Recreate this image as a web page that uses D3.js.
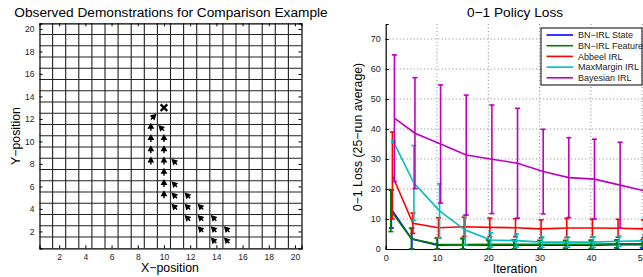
<!DOCTYPE html>
<html>
<head>
<meta charset="utf-8">
<script src="https://cdn.jsdelivr.net/npm/d3@7"></script>
<style>
  body { margin: 0; background: #fff; }
  svg { display: block; font-family: 'Liberation Sans', Arial, sans-serif; }
</style>
</head>
<body>
<svg id="canvas" width="643" height="277"></svg>
<script>
// ---- left panel: demonstration on the grid world ----
let demoX   = [9, 9, 10, 9, 10, 9, 10, 9, 10, 11, 10, 10, 11, 10, 11, 12, 11, 12, 13, 12, 13, 14, 13, 14, 15, 14, 15]
let demoY   = [12, 11, 11, 10, 10, 9, 9, 8, 8, 8, 7, 6, 6, 5, 5, 5, 4, 4, 4, 3, 3, 3, 2, 2, 2, 1, 1]
let demoDir = ['NE', 'N', 'NW', 'N', 'N', 'N', 'N', 'N', 'N', 'NW', 'N', 'N', 'NW', 'N', 'NW', 'NW',
               'NW', 'NW', 'NW', 'NW', 'NW', 'NW', 'NW', 'NW', 'NW', 'NW', 'NW']
let goal = [10, 13]
let gridTicks = [2, 4, 6, 8, 10, 12, 14, 16, 18, 20]

// ---- right panel: 0-1 policy loss ----
let iterations = [1, 5, 10, 15, 20, 25, 30, 35, 40, 45, 50]
let lossTicksX = [0, 10, 20, 30, 40, 50]
let lossTicksY = [0, 10, 20, 30, 40, 50, 60, 70]

let stateMean = [13.3, 3.3, 1.3, 1.4, 1.3, 1.3, 1.3, 1.3, 1.3, 1.4, 1.4]
let stateErr  = [6.3, 3.6, 2.4, 2.2, 1.5, 1.5, 1.4, 1.4, 1.3, 1.6, 1.5]
let featureMean = [12.8, 3.4, 1.6, 1.5, 1.6, 1.6, 1.6, 1.6, 1.6, 1.7, 1.7]
let featureErr  = [7.0, 3.5, 2.0, 1.9, 1.5, 1.5, 1.3, 1.3, 1.4, 1.3, 1.2]
let abbeelMean = [24.5, 8.6, 7.1, 7.4, 7.2, 7.1, 6.7, 7.0, 7.0, 6.9, 6.7]
let abbeelErr  = [14.5, 3.4, 3.3, 3.2, 3.1, 3.0, 3.0, 3.2, 3.0, 3.0, 3.0]
let maxMarginMean = [35.8, 22.0, 12.7, 6.3, 3.0, 2.8, 2.3, 2.3, 2.3, 2.6, 2.7]
let maxMarginErr  = [0.4, 12.5, 9.0, 5.0, 2.4, 2.2, 1.8, 1.7, 1.8, 1.7, 1.6]
let bayesMean = [43.6, 38.6, 35.0, 31.3, 29.9, 28.6, 25.8, 23.8, 23.3, 21.3, 19.3]
let bayesErr  = [21.1, 18.5, 19.7, 20.0, 18.1, 18.3, 14.1, 13.3, 13.3, 14.3, 13.7]

let seriesNames = ['BN\u2212IRL State', 'BN\u2212IRL Feature', 'Abbeel IRL', 'MaxMargin IRL', 'Bayesian IRL']
let seriesMeans = [stateMean, featureMean, abbeelMean, maxMarginMean, bayesMean]
let seriesErrs  = [stateErr, featureErr, abbeelErr, maxMarginErr, bayesErr]
let seriesColors = ['#0000ff', '#008000', '#ff0000', '#00bfbf', '#bf00bf']
let seriesShift  = [0.1, 0, 0.3, 0.5, 0.7]   // small x jitter so bars don't sit on top of each other

let svg = d3.select('#canvas')

let drawGridWorld = () => {
    let xScale = d3.scaleLinear().domain([0.5, 20.5]).range([39.5, 301.5])
    let yScale = d3.scaleLinear().domain([0.5, 20.5]).range([248.3, 23.3])
    let g = svg.append('g')

    let cells = d3.range(1.5, 20, 1)
    g.selectAll('.vline').data(cells).enter().append('line')
        .attr('x1', d => xScale(d)).attr('x2', d => xScale(d))
        .attr('y1', yScale(0.5)).attr('y2', yScale(20.5))
        .attr('stroke', '#222').attr('stroke-width', 1.1)
    g.selectAll('.hline').data(cells).enter().append('line')
        .attr('y1', d => yScale(d)).attr('y2', d => yScale(d))
        .attr('x1', xScale(0.5)).attr('x2', xScale(20.5))
        .attr('stroke', '#222').attr('stroke-width', 1.1)

    let xAxis = d3.axisBottom(xScale).tickValues(gridTicks).tickSize(-3).tickPadding(6)
    let yAxis = d3.axisLeft(yScale).tickValues(gridTicks).tickSize(-3).tickPadding(5)
    let xTop = d3.axisTop(xScale).tickValues(gridTicks).tickSize(-3).tickFormat('')
    let yRight = d3.axisRight(yScale).tickValues(gridTicks).tickSize(-3).tickFormat('')

    g.append('g').attr('transform', 'translate(0,' + yScale(0.5) + ')').call(xAxis)
    g.append('g').attr('transform', 'translate(' + xScale(0.5) + ',0)').call(yAxis)
    g.append('g').attr('transform', 'translate(0,' + yScale(20.5) + ')').call(xTop)
    g.append('g').attr('transform', 'translate(' + xScale(20.5) + ',0)').call(yRight)
    g.selectAll('.domain').attr('stroke', '#000').attr('stroke-width', 1.2)
    g.selectAll('.tick text').attr('font-size', 8.5).attr('fill', '#222')
        .attr('font-family', "'Liberation Sans', Arial, sans-serif")

    // demonstration arrows
    let arrowPath = 'M0,0 L0,-3 M-2.2,-2.6 L0,-6.5 L2.2,-2.6 Z'
    let angle = { N: 0, NW: -45, NE: 45 }
    g.selectAll('.arrow').data(demoX).enter().append('path')
        .attr('d', arrowPath)
        .attr('transform', (d, i) => 'translate(' + xScale(d) + ',' + (yScale(demoY[i]) + 0.5) + ') rotate(' + angle[demoDir[i]] + ')')
        .attr('fill', '#000').attr('stroke', '#000').attr('stroke-width', 1.4)
        .attr('stroke-linejoin', 'miter')

    // goal marker
    let gx = xScale(goal[0]), gy = yScale(goal[1])
    g.append('path')
        .attr('d', 'M' + (gx - 3.3) + ',' + (gy - 3.3) + 'L' + (gx + 3.3) + ',' + (gy + 3.3) +
                   'M' + (gx - 3.3) + ',' + (gy + 3.3) + 'L' + (gx + 3.3) + ',' + (gy - 3.3))
        .attr('stroke', '#000').attr('stroke-width', 2.4)

    svg.append('text').attr('x', 171).attr('y', 17).attr('text-anchor', 'middle')
        .attr('font-size', 13.7).text('Observed Demonstrations for Comparison Example')
    svg.append('text').attr('x', 170).attr('y', 272).attr('text-anchor', 'middle')
        .attr('font-size', 12.3).text('X\u2212position')
    svg.append('text').attr('transform', 'translate(20,136) rotate(-90)').attr('text-anchor', 'middle')
        .attr('font-size', 12.3).text('Y\u2212position')
}

let drawLoss = () => {
    let xScale = d3.scaleLinear().domain([0, 51]).range([385.7, 647.3])
    let yScale = d3.scaleLinear().domain([0, 75]).range([249, 24])
    let g = svg.append('g')

    // dotted grid
    g.selectAll('.gx').data(lossTicksX.slice(1)).enter().append('line')
        .attr('x1', d => xScale(d)).attr('x2', d => xScale(d))
        .attr('y1', yScale(0)).attr('y2', yScale(75))
        .attr('stroke', '#888').attr('stroke-dasharray', '1,2.5')
    g.selectAll('.gy').data(lossTicksY.slice(1)).enter().append('line')
        .attr('y1', d => yScale(d)).attr('y2', d => yScale(d))
        .attr('x1', xScale(0)).attr('x2', xScale(51))
        .attr('stroke', '#888').attr('stroke-dasharray', '1,2.5')

    let xAxis = d3.axisBottom(xScale).tickValues(lossTicksX).tickSize(-3).tickPadding(6)
    let yAxis = d3.axisLeft(yScale).tickValues(lossTicksY).tickSize(-3).tickPadding(5)
    g.append('g').attr('transform', 'translate(0,' + yScale(0) + ')').call(xAxis)
    g.append('g').attr('transform', 'translate(' + xScale(0) + ',0)').call(yAxis)
    g.selectAll('.domain').attr('stroke', '#000').attr('stroke-width', 1.2)
    g.selectAll('.tick text').attr('font-size', 9).attr('fill', '#222')
        .attr('font-family', "'Liberation Sans', Arial, sans-serif")

    seriesMeans.forEach((means, s) => {
        let color = seriesColors[s]
        let xs = iterations.map(d => xScale(d + seriesShift[s]))
        let line = d3.line().x((d, i) => xs[i]).y(d => yScale(d))
        g.append('path').datum(means).attr('d', line)
            .attr('fill', 'none').attr('stroke', color).attr('stroke-width', 1.6)
        let bars = g.append('g').attr('stroke', color).attr('stroke-width', 1.6)
        means.forEach((m, i) => {
            let lo = Math.max(0, m - seriesErrs[s][i])
            let hi = m + seriesErrs[s][i]
            bars.append('line').attr('x1', xs[i]).attr('x2', xs[i])
                .attr('y1', yScale(lo)).attr('y2', yScale(hi))
            bars.append('line').attr('x1', xs[i] - 2.5).attr('x2', xs[i] + 2.5)
                .attr('y1', yScale(lo)).attr('y2', yScale(lo))
            bars.append('line').attr('x1', xs[i] - 2.5).attr('x2', xs[i] + 2.5)
                .attr('y1', yScale(hi)).attr('y2', yScale(hi))
        })
    })

    // legend
    let legend = g.append('g').attr('transform', 'translate(541,28)')
    legend.append('rect').attr('width', 101).attr('height', 57)
        .attr('fill', '#fff').attr('stroke', '#000').attr('stroke-width', 1)
    seriesNames.forEach((name, i) => {
        let y = 7 + i * 10.7
        legend.append('line').attr('x1', 5.5).attr('x2', 32).attr('y1', y).attr('y2', y)
            .attr('stroke', seriesColors[i]).attr('stroke-width', 1.6)
        legend.append('text').attr('x', 37).attr('y', y + 3.2)
            .attr('font-size', 9).attr('fill', '#222').text(name)
    })

    svg.append('text').attr('x', 515).attr('y', 17).attr('text-anchor', 'middle')
        .attr('font-size', 13.7).text('0\u22121 Policy Loss')
    svg.append('text').attr('x', 515).attr('y', 273).attr('text-anchor', 'middle')
        .attr('font-size', 12.3).text('Iteration')
    svg.append('text').attr('transform', 'translate(362,137) rotate(-90)').attr('text-anchor', 'middle')
        .attr('font-size', 12.3).text('0\u22121 Loss (25\u2212run average)')
}

drawGridWorld()
drawLoss()
</script>
</body>
</html>
